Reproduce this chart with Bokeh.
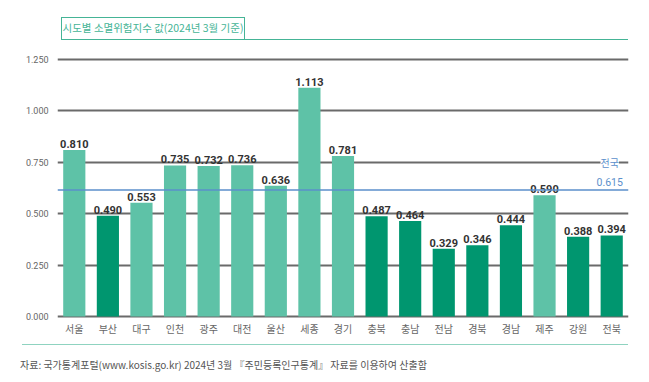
from bokeh.plotting import figure
from bokeh.layouts import column
from bokeh.models import (Range1d, FactorRange, FixedTicker, NumeralTickFormatter, Span, Div,
                          ColumnDataSource)
from bokeh.core.properties import value
from bokeh.embed import file_html
from bokeh.resources import INLINE

regions = ["서울", "부산", "대구", "인천", "광주", "대전", "울산", "세종", "경기",
           "충북", "충남", "전남", "경북", "경남", "제주", "강원", "전북"]
values = [0.810, 0.490, 0.553, 0.735, 0.732, 0.736, 0.636, 1.113, 0.781,
          0.487, 0.464, 0.329, 0.346, 0.444, 0.590, 0.388, 0.394]
group = ["light", "dark", "light", "light", "light", "light", "light", "light", "light",
         "dark", "dark", "dark", "dark", "dark", "light", "dark", "dark"]
national_avg = 0.615
y_ticks = [0, 0.25, 0.5, 0.75, 1.0, 1.25]
title_text = "시도별 소멸위험지수 값(2024년 3월 기준)"
source_text = "자료: 국가통계포털(www.kosis.go.kr) 2024년 3월 『주민등록인구통계』 자료를 이용하여 산출함"

LIGHT = "#5ec2a7"
DARK = "#00966f"
TEAL = "#45b496"
KFONT = "Noto Sans CJK KR"
NUMFONT = "Roboto"
W = 649
HEAD_H, CHART_H, FOOT_H = 48, 292, 42

# ---- header: boxed title + rule ----
head = Div(width=W, height=HEAD_H, margin=0, text=(
    f'<div style="position:relative;width:{W}px;height:{HEAD_H}px;">'
    f'<div style="position:absolute;left:245px;top:39px;width:383px;height:0;'
    f'border-top:1.3px solid {TEAL};"></div>'
    f'<div style="position:absolute;left:61px;top:17px;width:184px;height:23px;'
    f'box-sizing:border-box;border:1.3px solid {TEAL};background:white;color:{TEAL};'
    f"font-family:'{KFONT}';font-size:10.5px;line-height:20px;text-align:center;"
    f'white-space:nowrap;">{title_text}</div></div>'))

# ---- chart ----
colors = [LIGHT if g == "light" else DARK for g in group]
src = ColumnDataSource(dict(x=regions, y=values, c=colors, t=["%.3f" % v for v in values]))

p = figure(width=W, height=CHART_H, x_range=FactorRange(*regions, range_padding=0),
           y_range=Range1d(-0.01, 1.26), output_backend="svg", toolbar_location=None,
           min_border_left=57, min_border_right=21, min_border_top=9, min_border_bottom=22)
p.outline_line_color = None
p.background_fill_color = "white"
p.border_fill_color = "white"

p.xgrid.grid_line_color = None
p.ygrid.ticker = FixedTicker(ticks=y_ticks)
p.ygrid.grid_line_color = "#6a6a6a"
p.ygrid.grid_line_width = 2

p.yaxis.ticker = FixedTicker(ticks=y_ticks)
p.yaxis.formatter = NumeralTickFormatter(format="0.000")
p.yaxis.axis_line_color = None
p.yaxis.major_tick_line_color = None
p.yaxis.minor_tick_line_color = None
p.yaxis.major_tick_out = 0
p.yaxis.major_tick_in = 0
p.yaxis.minor_tick_out = 0
p.yaxis.major_label_text_font = "Roboto"
p.yaxis.major_label_text_font_size = "9px"
p.yaxis.major_label_text_color = "#666666"
p.yaxis.major_label_standoff = 9

p.xaxis.axis_line_color = None
p.xaxis.major_tick_line_color = None
p.xaxis.major_tick_out = 0
p.xaxis.major_tick_in = 0
p.xaxis.major_label_text_font = KFONT
p.xaxis.major_label_text_font_size = "10px"
p.xaxis.major_label_text_color = "#666666"
p.xaxis.major_label_standoff = 2

p.vbar(x="x", top="y", bottom=0, width=0.66, fill_color="c", line_color=None, source=src)

p.text(x="x", y="y", text="t", source=src, y_offset=-2, text_align="center",
       text_baseline="bottom", text_font=value(NUMFONT), text_font_style="bold",
       text_font_size="11px", text_color="#333333")

p.add_layout(Span(location=national_avg, dimension="width", line_color="#5b8fcb", line_width=1.5))

p.text(x=[regions[-1]], y=[0.75], text=["전국"], text_align="center", text_baseline="middle",
       text_font=value(KFONT), text_font_size="10px", text_color="#5b8fcb",
       background_fill_color="white", x_offset=-2)
p.text(x=[regions[-1]], y=[national_avg], text=["%.3f" % national_avg], text_align="center",
       text_baseline="bottom", y_offset=-4, x_offset=-2, text_font=value(NUMFONT),
       text_font_size="10.5px", text_color="#5b8fcb")

# ---- footer: rule + source note ----
foot = Div(width=W, height=FOOT_H, margin=0, text=(
    f'<div style="position:relative;width:{W}px;height:{FOOT_H}px;">'
    f'<div style="position:absolute;left:22px;top:4px;width:606px;height:0;'
    f'border-top:1.3px solid #8fd3c0;"></div>'
    f'<div style="position:absolute;left:20px;top:18px;color:#555555;'
    f"font-family:'{KFONT}';font-size:10px;line-height:14px;white-space:nowrap;\">"
    f'{source_text}</div></div>'))

layout = column(head, p, foot, spacing=0, margin=0)
open("out.html", "w").write(file_html(layout, INLINE))
